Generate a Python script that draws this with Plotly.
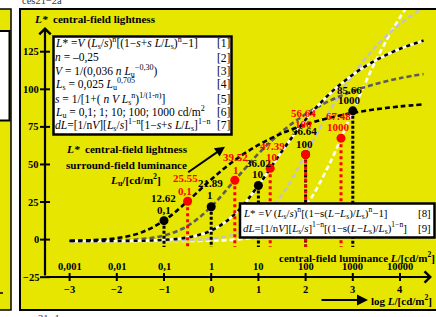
import plotly.graph_objects as go

# ---------------- data ----------------
LOG_L = [-3.0, -2.5, -2.0, -1.5, -1.0, -0.5, 0.0, 0.5, 1.0, 1.5, 2.0, 2.5, 3.0, 3.5, 4.0, 4.5]
LSTAR_LU_0_1 = [-0.77, -0.34, 0.95, 4.54, 12.62, 25.55, 40.02, 52.80, 62.95, 70.72, 76.57, 80.97, 84.28, 86.75, 88.61, 90.00]
LSTAR_LU_1 = [-0.94, -0.85, -0.58, 0.25, 2.72, 9.11, 21.89, 39.52, 57.15, 71.93, 83.44, 92.17, 98.75, 103.69, 107.39, 110.17]
LSTAR_LU_10 = [-0.98, -0.96, -0.90, -0.74, -0.21, 1.41, 6.01, 16.97, 36.02, 58.85, 79.82, 96.73, 109.73, 119.55, 126.93, 132.48]
LSTAR_LU_100 = [-0.99, -0.98, -0.97, -0.94, -0.83, -0.50, 0.54, 3.64, 12.00, 29.88, 56.64, 85.06, 109.51, 128.74, 143.39, 154.43]
LSTAR_LU_1000 = [-0.99, -0.99, -0.99, -0.98, -0.96, -0.89, -0.68, -0.03, 1.98, 7.83, 22.49, 50.02, 85.66, 119.85, 147.98, 169.72]

LU_LABELS = ["0,1", "1", "10", "100", "1000"]
BLACK_LOG_L = [-1.0, 0.0, 1.0, 2.0, 3.0]
BLACK_LSTAR = [12.62, 21.89, 36.02, 56.64, 85.66]
RED_LOG_L = [-0.5, 0.5, 1.25, 2.0, 2.75]
RED_LSTAR = [25.55, 39.52, 47.39, 56.64, 67.48]

Y_TICKS = [-25, 0, 25, 50, 75, 100, 125]
Y_TICK_LABELS = ["−25", "0", "25", "50", "75", "100", "125"]
X_TICKS = [-3, -2, -1, 0, 1, 2, 3, 4]
X_TOP_LABELS = ["0,001", "0,01", "0,1", "1", "10", "100", "1000", "10000"]
X_BOT_LABELS = ["−3", "−2", "−1", "0", "1", "2", "3", "4"]

LEGEND_1 = [
    "<i>L</i>* =<i>V</i> (<i>L</i><sub>s</sub>/<i>s</i>)<sup>n</sup>[(1−<i>s</i>+<i>s L</i>/<i>L</i><sub>s</sub>)<sup>n</sup>−1]",
    "<i>n</i> = –0,25",
    "<i>V</i> = 1/(0,036 <i>n L</i><sub>u</sub><sup>−0,30</sup>)",
    "<i>L</i><sub>s</sub> = 0,025 <i>L</i><sub>u</sub><sup>0,705</sup>",
    "<i>s</i> = 1/[1+( <i>n V L</i><sub>s</sub><sup>n</sup>)<sup>1/(1-<i>n</i>)</sup>]",
    "<i>L</i><sub>u</sub> = 0,1; 1; 10; 100; 1000 cd/m<sup>2</sup>",
    "<i>dL</i>=[1/n<i>V</i>][<i>L</i><sub>s</sub>/<i>s</i>]<sup>1−n</sup>[1−<i>s</i>+<i>s L</i>/<i>L</i><sub>s</sub>]<sup>1−n</sup>",
]
LEGEND_1_NUM = ["[1]", "[2]", "[3]", "[4]", "[5]", "[6]", "[7]"]
LEGEND_2 = [
    "<i>L</i>* =<i>V</i> (<i>L</i><sub>s</sub>/<i>s</i>)<sup>n</sup>[(1−s(<i>L</i>−<i>L</i><sub>s</sub>)/<i>L</i><sub>s</sub>)<sup>n</sup>−1]",
    "<i>dL</i>=[1/n<i>V</i>][<i>L</i><sub>s</sub>/<i>s</i>]<sup>1−n</sup>[(1−s(<i>L</i>−<i>L</i><sub>s</sub>)/<i>L</i><sub>s</sub>)<sup>1−n</sup>]",
]
LEGEND_2_NUM = ["[8]", "[9]"]

# ---------------- geometry / style ----------------
W, H = 436, 317
ML, MR, MT, MB = 21, 0, 10, 8
X0, SX = 211.2, 47.2      # pixel of log L = 0, pixels per decade
Y0, SY = 239.6, 1.503     # pixel of L* = 0, pixels per L* unit
DROP_BOTTOM = -5

def dx(p):
    return (p - X0) / SX

def dy(p):
    return (Y0 - p) / SY

def px_(p):
    return (p - ML) / (W - ML - MR)

def py_(p):
    return (H - MB - p) / (H - MT - MB)

YELLOW = "#e6e600"
RED = "#ff0000"
FONT = "Liberation Serif"

fig = go.Figure()

curve_styles = [
    (LSTAR_LU_1000, dict(color="white", width=2.6, dash="5px,3px")),
    (LSTAR_LU_100, dict(color="#c4c4c4", width=2.6, dash="5px,3px")),
    (LSTAR_LU_1, dict(color="#5c5c5c", width=2.6, dash="5px,3px")),
    (LSTAR_LU_10, dict(color="white", width=2.6)),
    (LSTAR_LU_10, dict(color="black", width=2.6, dash="4px,4px")),
    (LSTAR_LU_0_1, dict(color="black", width=2.6, dash="5px,3px")),
]
for ys, st in curve_styles:
    fig.add_trace(go.Scatter(x=LOG_L, y=ys, mode="lines",
                             line=dict(shape="spline", smoothing=1.0, **st),
                             hoverinfo="skip", showlegend=False))


def drops(xs, ys):
    X, Y = [], []
    for x, y in zip(xs, ys):
        X += [x, x, None]
        Y += [y, DROP_BOTTOM, None]
    return X, Y

bx, by = drops(BLACK_LOG_L, BLACK_LSTAR)
fig.add_trace(go.Scatter(x=bx, y=by, mode="lines",
                         line=dict(color="black", width=3, dash="3px,2px"),
                         hoverinfo="skip", showlegend=False))
rx, ry = drops(RED_LOG_L, RED_LSTAR)
fig.add_trace(go.Scatter(x=rx, y=ry, mode="lines",
                         line=dict(color=RED, width=3, dash="3px,3px"),
                         hoverinfo="skip", showlegend=False))

fig.add_trace(go.Scatter(x=BLACK_LOG_L, y=BLACK_LSTAR, mode="markers",
                         marker=dict(color="black", size=9),
                         hoverinfo="skip", showlegend=False))
fig.add_trace(go.Scatter(x=RED_LOG_L, y=RED_LSTAR, mode="markers",
                         marker=dict(color=RED, size=9),
                         hoverinfo="skip", showlegend=False))

annotations = []
shapes = []


def T(xp, yp, text, size, color="black", xanchor="left"):
    annotations.append(dict(x=px_(xp), y=py_(yp), xref="paper", yref="paper",
                            text=text, showarrow=False, xanchor=xanchor,
                            yanchor="middle", borderpad=0, borderwidth=0,
                            font=dict(family=FONT, size=size, color=color)))


def ARROW(hx, hy, tx, ty, head, width=2, size=1.0):
    annotations.append(dict(x=px_(hx), y=py_(hy), xref="paper", yref="paper",
                            ax=tx - hx, ay=ty - hy, text="", showarrow=True,
                            arrowhead=head, arrowwidth=width, arrowsize=size,
                            arrowcolor="black", standoff=0))

# left partial panel and main panel frame
shapes.append(dict(type="rect", xref="paper", yref="paper", x0=px_(-5), x1=px_(11),
                   y0=py_(310), y1=py_(9), fillcolor=YELLOW,
                   line=dict(color="black", width=1.5), layer="above"))
shapes.append(dict(type="rect", xref="paper", yref="paper", x0=px_(-5), x1=px_(9.5),
                   y0=py_(120.5), y1=py_(31), fillcolor="white",
                   line=dict(color="black", width=2), layer="above"))
shapes.append(dict(type="line", xref="paper", yref="paper", x0=px_(0), x1=px_(3),
                   y0=py_(293), y1=py_(293), line=dict(color="black", width=1.5)))
shapes.append(dict(type="rect", xref="paper", yref="paper", x0=px_(20), x1=px_(446),
                   y0=py_(310), y1=py_(9), line=dict(color="black", width=2),
                   fillcolor="rgba(0,0,0,0)", layer="above"))

# axes
ARROW(45, 27, 45, 277, head=4, width=2.2)
ARROW(432, 277, 45, 277, head=4, width=2.2)
for v, lab in zip(Y_TICKS, Y_TICK_LABELS):
    shapes.append(dict(type="line", xref="paper", yref="y", x0=px_(40), x1=px_(50),
                       y0=v, y1=v, line=dict(color="black", width=2)))
    annotations.append(dict(x=px_(38.5), y=v, xref="paper", yref="y", text="<b>%s</b>" % lab,
                            showarrow=False, xanchor="right", yanchor="middle",
                            borderpad=0, borderwidth=0,
                            font=dict(family=FONT, size=10.5, color="black")))
for t, top, bot in zip(X_TICKS, X_TOP_LABELS, X_BOT_LABELS):
    shapes.append(dict(type="line", xref="x", yref="paper", x0=t, x1=t,
                       y0=py_(273), y1=py_(281), line=dict(color="black", width=2)))
    annotations.append(dict(x=t, y=py_(266.5), xref="x", yref="paper", text="<b>%s</b>" % top,
                            showarrow=False, xanchor="center", yanchor="middle",
                            borderpad=0, borderwidth=0,
                            font=dict(family=FONT, size=10.5, color="black")))
    annotations.append(dict(x=t, y=py_(289.5), xref="x", yref="paper", text="<b>%s</b>" % bot,
                            showarrow=False, xanchor="center", yanchor="middle",
                            borderpad=0, borderwidth=0,
                            font=dict(family=FONT, size=10.5, color="black")))

# titles
T(33.5, 19, "<b><i>L*</i></b>", 11.3)
T(52.5, 19, "<b>central-field lightness</b>", 11.1)
T(66, 148.5, "<b><i>L*</i></b>", 11.3)
T(85, 148.5, "<b>central-field lightness</b>", 11.1)
T(66, 165, "<b>surround-field luminance</b>", 11.1)
T(110, 179.5, "<b><i>L</i><sub>u</sub>/[cd/m<sup>2</sup>]</b>", 11.3)
ARROW(225, 146.7, 186.7, 173.3, head=2, width=2)
T(435, 256.5, "<b>central-field luminance <i>L</i>/[cd/m<sup>2</sup>]</b>", 11.0, xanchor="right")
T(371, 300, "<b>log <i>L</i>/[cd/m<sup>2</sup>]</b>", 11.0)
ARROW(368, 300, 320, 300, head=2, width=2.2)

# header / footer fragments
T(22, 0.5, "ces21−2a", 10.5, color="#333333")
T(38, 318, "21−1", 10.5, color="#333333")

# legend boxes
shapes.append(dict(type="rect", xref="paper", yref="paper", x0=px_(53.5), x1=px_(231.5),
                   y0=py_(134.5), y1=py_(36.5), fillcolor="white",
                   line=dict(color="black", width=2.5), layer="above"))
LEG1_Y = [43.3, 57.5, 70.8, 84.2, 98.7, 111.7, 125.0]
for yy, txt, num in zip(LEG1_Y, LEGEND_1, LEGEND_1_NUM):
    T(54.8, yy, txt, 11.5)
    T(230.3, yy, num, 11.5, xanchor="right")

shapes.append(dict(type="rect", xref="paper", yref="paper", x0=px_(240), x1=px_(434.5),
                   y0=py_(237.5), y1=py_(203.5), fillcolor="white",
                   line=dict(color="black", width=2.5), layer="above"))
LEG2_Y = [212.8, 227.8]
for yy, txt, num in zip(LEG2_Y, LEGEND_2, LEGEND_2_NUM):
    T(243, yy, txt, 10.9)
    T(430.5, yy, num, 10.9, xanchor="right")

# point labels
BLACK_OFFS = [(-0.5, 22.5, 11), (-1, 23.5, 11.5), (0, 22.5, 11), (-1.5, 23, 10.5), (-3, 21, 10.5)]
RED_OFFS = [(-2.5, 23.2, 10), (1, 23.2, 10.7), (2, 22.7, 11.6), (-2, 41.5, 30.5), (-2.7, 22.3, 11.3)]


def point_labels(xs, ys, offs, color):
    for x, v, lu, (xs_, yv, yl) in zip(xs, ys, LU_LABELS, offs):
        for txt, ysh in (("%.2f" % v, yv), (lu, yl)):
            annotations.append(dict(x=x, y=v, xref="x", yref="y", text="<b>%s</b>" % txt,
                                    showarrow=False, xanchor="center", yanchor="middle",
                                    xshift=xs_, yshift=ysh, borderpad=0, borderwidth=0,
                                    font=dict(family=FONT, size=11, color=color)))

point_labels(BLACK_LOG_L, BLACK_LSTAR, BLACK_OFFS, "black")
point_labels(RED_LOG_L, RED_LSTAR, RED_OFFS, RED)

fig.update_layout(
    width=W, height=H, autosize=False,
    margin=dict(l=ML, r=MR, t=MT, b=MB, pad=0),
    plot_bgcolor=YELLOW, paper_bgcolor="white",
    showlegend=False,
    xaxis=dict(range=[dx(ML), dx(W - MR)], visible=False, fixedrange=True),
    yaxis=dict(range=[dy(H - MB), dy(MT)], visible=False, fixedrange=True),
    shapes=shapes, annotations=annotations,
)

fig.write_html("out.html",
               config={"displayModeBar": False, "staticPlot": True},
               post_script="document.body.style.margin='0';document.body.style.padding='0';")
